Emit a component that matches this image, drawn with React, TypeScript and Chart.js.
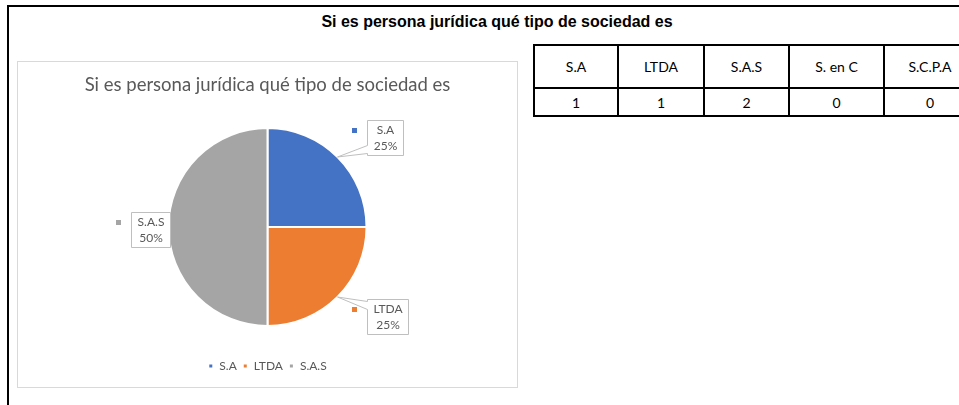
import React, { useEffect, useRef } from "react";
import { Chart, registerables } from "chart.js";

Chart.register(...registerables);

// ---- data ----
const categories = ["S.A", "LTDA", "S.A.S", "S. en C", "S.C.P.A"];
const counts = [1, 1, 2, 0, 0];
const sliceColors = ["#4472C4", "#ED7D31", "#A5A5A5", "#FFC000", "#5B9BD5"];
const titleText = "Si es persona jurídica qué tipo de sociedad es";

// callout box centre offset from the pie centre, in units of radius (style)
const calloutDX = [1.19, 1.21, -1.18, 0, 0];
const calloutDY = [-0.9, 0.9, 0.03, 0, 0];

// derived pie subset (non-zero values)
const pieIndex = counts.map((v, i) => (v > 0 ? i : -1)).filter((i) => i >= 0);
const pieLabels = pieIndex.map((i) => categories[i]);
const pieValues = pieIndex.map((i) => counts[i]);
const pieColors = pieIndex.map((i) => sliceColors[i]);

const TEXT_GRAY = "#595959";
const FONT = "Lato, 'Open Sans', sans-serif";

const calloutPlugin = {
  id: "callouts",
  afterDatasetsDraw(chart: any) {
    const ctx = chart.ctx as CanvasRenderingContext2D;
    const meta = chart.getDatasetMeta(0);
    const data = chart.data.datasets[0].data as number[];
    const total = data.reduce((a, b) => a + b, 0);
    ctx.save();
    ctx.font = `12px ${FONT}`;
    meta.data.forEach((arc: any, i: number) => {
      const { x, y, startAngle, endAngle, outerRadius } = arc.getProps(
        ["x", "y", "startAngle", "endAngle", "outerRadius"],
        true
      );
      const mid = (startAngle + endAngle) / 2;
      const ax = x + Math.cos(mid) * outerRadius;
      const ay = y + Math.sin(mid) * outerRadius;
      const src = pieIndex[i];
      const cx = x + calloutDX[src] * outerRadius;
      const cy = y + calloutDY[src] * outerRadius;
      const lines = [pieLabels[i], Math.round((data[i] / total) * 100) + "%"];
      const w = Math.round(Math.max(...lines.map((l) => ctx.measureText(l).width)) + 12);
      const h = 35;
      const left = Math.round(cx - w / 2) + 0.5;
      const top = Math.round(cy - h / 2) + 0.5;
      const right = left + w;
      const bottom = top + h;
      const by = Math.min(Math.max(ay, top + 6), bottom - 6);

      ctx.beginPath();
      ctx.moveTo(left, top);
      ctx.lineTo(right, top);
      if (ax > right + 6) {
        ctx.lineTo(right, by - 4);
        ctx.lineTo(ax, ay);
        ctx.lineTo(right, by + 4);
      }
      ctx.lineTo(right, bottom);
      ctx.lineTo(left, bottom);
      if (ax < left - 6) {
        ctx.lineTo(left, by + 4);
        ctx.lineTo(ax, ay);
        ctx.lineTo(left, by - 4);
      }
      ctx.closePath();
      ctx.fillStyle = "#ffffff";
      ctx.fill();
      ctx.strokeStyle = "#bfbfbf";
      ctx.lineWidth = 1;
      ctx.stroke();

      // legend key
      ctx.fillStyle = pieColors[i];
      ctx.fillRect(Math.round(left - 16), Math.round(top + 7), 5, 5);

      // text
      ctx.fillStyle = TEXT_GRAY;
      ctx.textAlign = "center";
      ctx.textBaseline = "middle";
      ctx.fillText(lines[0], left + w / 2, top + 10);
      ctx.fillText(lines[1], left + w / 2, top + 26);
    });
    ctx.restore();
  },
};

function PieChart() {
  const ref = useRef<HTMLCanvasElement | null>(null);
  useEffect(() => {
    if (!ref.current) return;
    const chart = new Chart(ref.current, {
      type: "pie",
      data: {
        labels: pieLabels,
        datasets: [
          {
            data: pieValues,
            backgroundColor: pieColors,
            borderColor: "#ffffff",
            borderWidth: 2,
            radius: 99,
          } as any,
        ],
      },
      options: {
        animation: false,
        responsive: false,
        events: [],
        layout: { padding: { top: 0, bottom: 5, left: 0, right: 0 } },
        plugins: {
          tooltip: { enabled: false },
          title: {
            display: true,
            text: titleText,
            color: TEXT_GRAY,
            font: { family: FONT, size: 18.5, weight: "normal" as any, lineHeight: 1.2 },
            padding: { top: 11.9, bottom: 3.9 },
          },
          legend: {
            display: true,
            position: "bottom",
            labels: {
              color: TEXT_GRAY,
              font: { family: FONT, size: 12 },
              boxWidth: 5,
              boxHeight: 5,
              padding: 6,
            },
          },
        },
      },
      plugins: [calloutPlugin],
    });
    return () => chart.destroy();
  }, []);
  return <canvas ref={ref} width={499} height={325} style={{ display: "block", width: 499, height: 325 }} />;
}

const colX = [534, 618, 704, 789, 884, 976];

export default function App() {
  const cellBase: React.CSSProperties = {
    position: "absolute",
    display: "flex",
    alignItems: "center",
    justifyContent: "center",
    fontFamily: FONT,
    fontSize: 14,
    color: "#000",
    boxSizing: "border-box",
  };
  const rowTop = [45, 88, 116];
  return (
    <div
      style={{
        position: "absolute",
        left: 0,
        top: 0,
        width: 959,
        height: 405,
        overflow: "hidden",
        background: "#fff",
      }}
    >
      {/* outer frame */}
      <div
        style={{
          position: "absolute",
          left: 7,
          top: 5,
          width: 1000,
          height: 500,
          borderTop: "2px solid #000",
          borderLeft: "2px solid #000",
          boxSizing: "border-box",
        }}
      />
      {/* sheet title */}
      <div
        style={{
          position: "absolute",
          left: 0,
          top: 12,
          width: 994,
          textAlign: "center",
          fontFamily: "'Liberation Sans', Arial, sans-serif",
          fontWeight: "bold",
          fontSize: 16,
          lineHeight: "20px",
          color: "#000",
        }}
      >
        {titleText}
      </div>
      {/* chart box */}
      <div
        style={{
          position: "absolute",
          left: 17,
          top: 61,
          width: 501,
          height: 327,
          border: "1px solid #d9d9d9",
          boxSizing: "border-box",
          background: "#fff",
        }}
      />
      <div style={{ position: "absolute", left: 18, top: 62 }}>
        <PieChart />
      </div>
      {/* table grid lines */}
      {rowTop.map((y, r) => (
        <div
          key={"h" + r}
          style={{ position: "absolute", left: colX[0] - 1, top: y - 1, width: colX[5] - colX[0] + 2, height: 2, background: "#000" }}
        />
      ))}
      {colX.map((x, c) => (
        <div
          key={"v" + c}
          style={{ position: "absolute", left: x - 1, top: rowTop[0] - 1, width: 2, height: rowTop[2] - rowTop[0] + 2, background: "#000" }}
        />
      ))}
      {categories.map((cat, c) => (
        <React.Fragment key={cat}>
          <div style={{ ...cellBase, left: colX[c], top: rowTop[0], width: colX[c + 1] - colX[c], height: rowTop[1] - rowTop[0] }}>
            {cat}
          </div>
          <div style={{ ...cellBase, left: colX[c], top: rowTop[1], width: colX[c + 1] - colX[c], height: rowTop[2] - rowTop[1] }}>
            {counts[c]}
          </div>
        </React.Fragment>
      ))}
    </div>
  );
}
